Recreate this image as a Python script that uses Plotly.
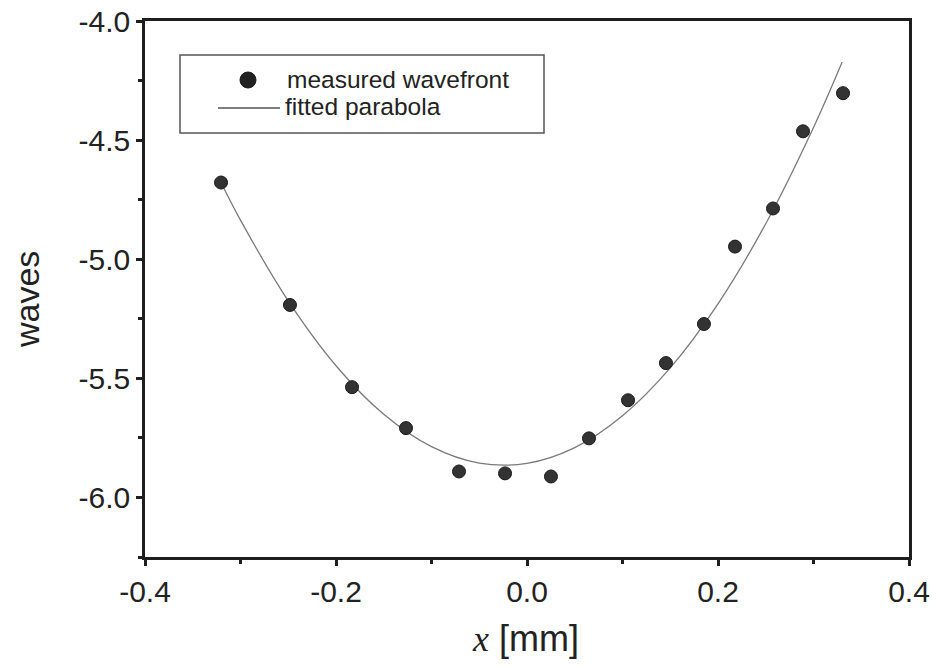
import plotly.graph_objects as go

# measured wavefront
x_meas = [-0.3204, -0.2482, -0.1832, -0.1267, -0.0712, -0.0230, 0.0251, 0.0649,
          0.1058, 0.1455, 0.1853, 0.2178, 0.2576, 0.2890, 0.3309]
y_meas = [-4.678, -5.192, -5.537, -5.709, -5.891, -5.899, -5.912, -5.752,
          -5.592, -5.436, -5.272, -4.947, -4.787, -4.463, -4.303]

# fitted parabola
x_fit = [-0.32, -0.30, -0.25, -0.20, -0.15, -0.10, -0.05, 0.00, 0.05, 0.10,
         0.15, 0.20, 0.25, 0.30, 0.33]
y_fit = [-4.681, -4.836, -5.175, -5.447, -5.651, -5.787, -5.856, -5.857,
         -5.791, -5.657, -5.456, -5.187, -4.851, -4.447, -4.172]

x_ticks = [-0.4, -0.2, 0.0, 0.2, 0.4]
y_ticks = [-6.0, -5.5, -5.0, -4.5, -4.0]

FONT = "Liberation Sans, Arial"

W, H = 936, 667
L, R, T, B = 145, 27, 21, 110
pw, ph = W - L - R, H - T - B

def px(xp):  # page pixel -> paper fraction
    return (xp - L) / pw

def py(yp):
    return (H - B - yp) / ph

fig = go.Figure()
fig.add_trace(go.Scatter(x=x_fit, y=y_fit, mode="lines", line_shape="spline",
                         line=dict(color="#7a7a7a", width=1.3),
                         name="fitted parabola", showlegend=False))
fig.add_trace(go.Scatter(x=x_meas, y=y_meas, mode="markers",
                         marker=dict(size=13, color="#333333",
                                     line=dict(color="#1a1a1a", width=1)),
                         name="measured wavefront", showlegend=False))

axis_common = dict(showgrid=False, zeroline=False, showline=True, mirror=True,
                   automargin=False,
                   linecolor="#1e1e1e", linewidth=2.6, ticks="outside",
                   tickcolor="#1e1e1e", tickwidth=2.6, ticklen=6,
                   tickfont=dict(family=FONT, size=30, color="#222222"))

fig.update_xaxes(range=[-0.4, 0.4], tickvals=x_ticks,
                 ticktext=[f"{v:.1f}" for v in x_ticks],
                 minor=dict(dtick=0.1, ticks="outside", ticklen=4,
                            tickwidth=2.6, tickcolor="#1e1e1e"),
                 **axis_common)
fig.update_yaxes(range=[-6.25, -4.0], tickvals=y_ticks,
                 ticktext=[f"{v:.1f}" for v in y_ticks],
                 minor=dict(dtick=0.25, ticks="outside", ticklen=4,
                            tickwidth=2.6, tickcolor="#1e1e1e"),
                 **axis_common)

# legend drawn manually
shapes = [
    dict(type="rect", xref="paper", yref="paper",
         x0=px(180), x1=px(544), y0=py(133), y1=py(55),
         line=dict(color="#555555", width=1.5), fillcolor="white", layer="below"),
    dict(type="circle", xref="paper", yref="paper",
         x0=px(240), x1=px(256), y0=py(88), y1=py(72),
         line=dict(color="#1a1a1a", width=1), fillcolor="#222222"),
    dict(type="line", xref="paper", yref="paper",
         x0=px(218), x1=px(280), y0=py(108), y1=py(108),
         line=dict(color="#555555", width=1.3)),
]
annotations = [
    dict(text="measured wavefront", xref="paper", yref="paper", x=px(285), y=py(80),
         xanchor="left", yanchor="middle", showarrow=False,
         font=dict(family=FONT, size=24.5, color="#222222")),
    dict(text="fitted parabola", xref="paper", yref="paper", x=px(283), y=py(107),
         xanchor="left", yanchor="middle", showarrow=False,
         font=dict(family=FONT, size=24.5, color="#222222")),
    dict(text="waves", xref="paper", yref="paper", x=px(27), y=py(300),
         xanchor="center", yanchor="middle", textangle=-90, showarrow=False,
         font=dict(family=FONT, size=34, color="#222222")),
    dict(text='<span style="font-family:Liberation Serif"><i>x</i></span> [mm]',
         xref="paper", yref="paper", x=px(525), y=py(638),
         xanchor="center", yanchor="middle", showarrow=False,
         font=dict(family=FONT, size=36, color="#222222")),
]

fig.update_layout(width=W, height=H, margin=dict(l=L, r=R, t=T, b=B, autoexpand=False),
                  paper_bgcolor="white", plot_bgcolor="white",
                  shapes=shapes, annotations=annotations, showlegend=False)

fig.write_html("out.html", config={"displayModeBar": False},
               post_script="document.body.style.margin='0';document.body.style.overflow='hidden';")
